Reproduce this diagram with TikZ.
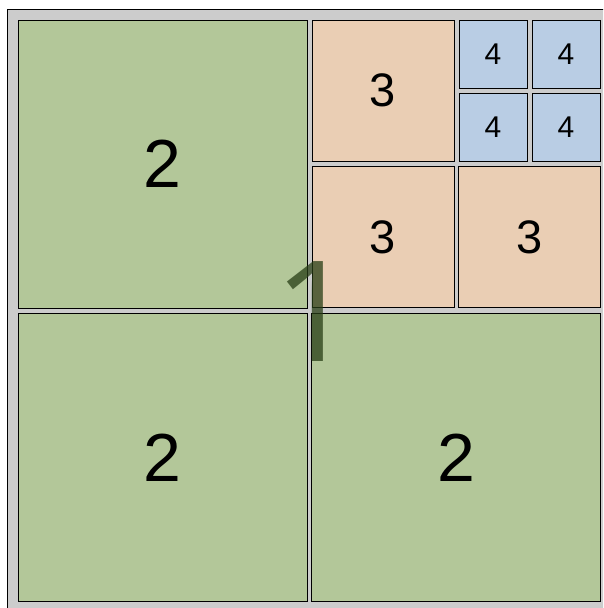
\documentclass[tikz,border=0pt]{standalone}
\usepackage{fontspec}
\setmainfont{Liberation Sans}
\newfontfamily\rootfont{Open Sans}
\definecolor{quadgreen}{RGB}{179,199,153}
\definecolor{quadpeach}{RGB}{234,206,180}
\definecolor{quadblue}{RGB}{185,205,228}
\definecolor{quadgray}{RGB}{204,204,204}
\definecolor{quaddark}{RGB}{40,62,22}

\begin{document}
\begin{tikzpicture}[x=1pt,y=-1pt,
  cell/.style={draw=black,line width=0.9pt,inner sep=0pt,outer sep=0pt},
  lvltwo/.style={cell,fill=quadgreen,minimum width=289pt,minimum height=288pt,font=\fontsize{68}{68}\selectfont},
  lvlthree/.style={cell,fill=quadpeach,minimum width=142pt,minimum height=141pt,font=\fontsize{47}{47}\selectfont},
  lvlfour/.style={cell,fill=quadblue,minimum width=68pt,minimum height=68pt,font=\fontsize{30}{30}\selectfont}]
\useasboundingbox (0,0) rectangle (603,608);
\clip (0,0) rectangle (603,608);
% outer frame
\draw[fill=quadgray,line width=0.9pt] (7,9) rectangle (640,640);
% level 2
\node[lvltwo] (nw) at (162.5,164) {2};
\node[lvltwo] (sw) at (162.5,457.5) {2};
\node[lvltwo] (se) at (456,457.5) {2};
% level 3
\node[lvlthree] (nenw) at (383,90.5) {3};
\node[lvlthree] (nesw) at (383,237) {3};
\node[lvlthree] (nese) at (529.5,237) {3};
% level 4
\node[lvlfour] (nenenw) at (493,54) {4};
\node[lvlfour] (nenene) at (566,54) {4};
\node[lvlfour] (nenesw) at (493,127) {4};
\node[lvlfour] (nenese) at (566,127) {4};
% level 1 mark
\node[text=quaddark,opacity=0.75,inner sep=0pt,font=\rootfont\fontsize{140}{140}\selectfont] (root) at (315,312) {1};
\end{tikzpicture}
\end{document}
